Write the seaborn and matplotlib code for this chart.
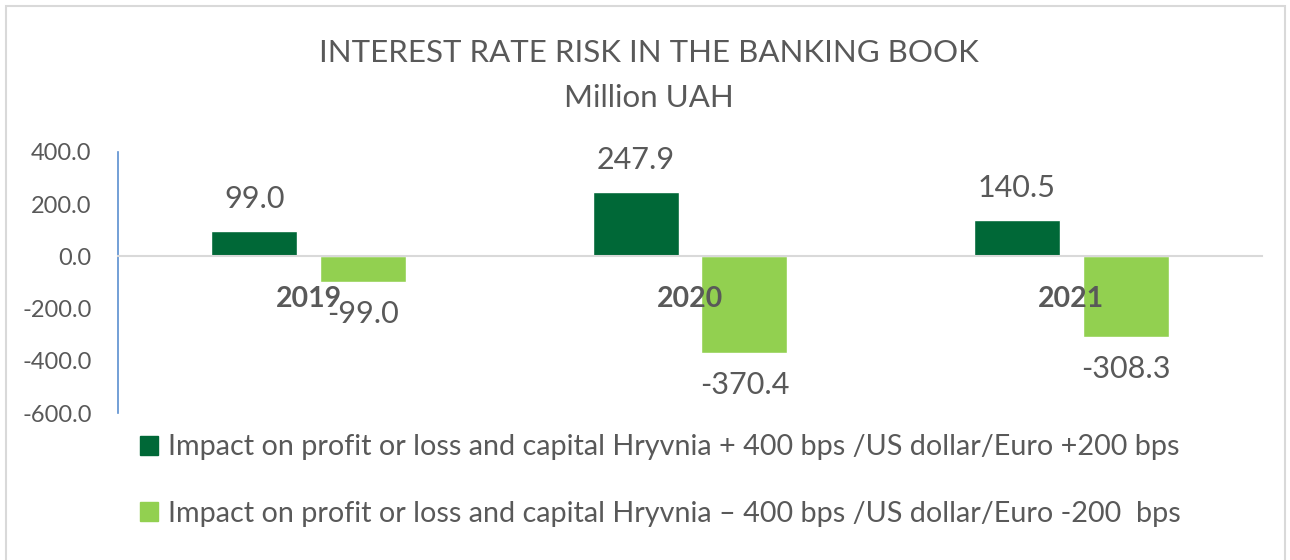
import pandas as pd
import matplotlib
matplotlib.use("Agg")
import matplotlib.pyplot as plt
import seaborn as sns
from matplotlib.patches import Rectangle

# Chart data
years = ["2019", "2020", "2021"]
impact_up = [99.0, 247.9, 140.5]
impact_down = [-99.0, -370.4, -308.3]
series_names = [
    "Impact on profit or loss and capital Hryvnia + 400 bps /US dollar/Euro +200 bps",
    "Impact on profit or loss and capital Hryvnia \u2013 400 bps /US dollar/Euro -200  bps",
]
y_ticks = [-600, -400, -200, 0, 200, 400]

DARK = "#006837"
LIGHT = "#92D050"
GREY = "#595959"


def main():
    sns.set_style("white")
    plt.rcParams["font.family"] = ["Lato", "DejaVu Sans"]
    plt.rcParams["axes.unicode_minus"] = False

    df = pd.DataFrame({
        "Year": years * 2,
        "Value": impact_up + impact_down,
        "Series": [series_names[0]] * 3 + [series_names[1]] * 3,
    })

    fig = plt.figure(figsize=(12.9, 5.6), dpi=100)
    ax = fig.add_axes([118 / 1290, 1 - 413 / 560, (1262 - 118) / 1290, (413 - 152) / 560])

    sns.barplot(data=df, x="Year", y="Value", hue="Series", order=years,
                hue_order=series_names, palette=[DARK, LIGHT], saturation=1,
                width=0.57, gap=0.21, ax=ax, legend=False)

    for cont in ax.containers:
        ax.bar_label(cont, fmt="%.1f", padding=13, fontsize=22, color=GREY)

    # spines first: moving the bottom spine resets the x tick labels
    ax.spines["top"].set_visible(False)
    ax.spines["right"].set_visible(False)
    ax.spines["left"].set_color("#5B8FD0")
    ax.spines["left"].set_linewidth(1.2)
    ax.spines["bottom"].set_position(("data", 0))
    ax.spines["bottom"].set_color("#D9D9D9")
    ax.spines["bottom"].set_linewidth(1.5)
    ax.set_axisbelow(False)  # year labels sit on top of the bars

    ax.set_ylim(-600, 400)
    ax.set_yticks(y_ticks)
    ax.set_yticklabels([f"{v:.1f}" for v in y_ticks], fontsize=17, color=GREY)
    ax.tick_params(axis="y", length=0, pad=19)
    ax.set_xticks(range(len(years)), years, fontsize=20.5, fontweight="bold", color=GREY)
    ax.tick_params(axis="x", length=0, pad=21)
    ax.set_xlabel("")
    ax.set_ylabel("")

    # title
    fig.text(0.503, 1 - 53 / 560, "INTEREST RATE RISK IN THE BANKING BOOK",
             ha="center", va="center", fontsize=22.5, color=GREY)
    fig.text(0.503, 1 - 98 / 560, "Million UAH",
             ha="center", va="center", fontsize=22.5, color=GREY)

    # legend below the plot
    handles = [Rectangle((0, 0), 1, 1, color=DARK), Rectangle((0, 0), 1, 1, color=LIGHT)]
    fig.legend(handles, series_names, loc="upper left",
               bbox_to_anchor=(128 / 1290, 1 - 423 / 560), frameon=False,
               fontsize=20.7, labelcolor=GREY, handlelength=0.65, handleheight=0.65,
               handletextpad=0.35, labelspacing=1.4, borderaxespad=0)

    # outer border of the chart area
    fig.patches.append(Rectangle((6 / 1290, -0.05), 1279 / 1290, 1 - 6 / 560 + 0.05,
                                 transform=fig.transFigure, fill=False,
                                 edgecolor="#D9D9D9", linewidth=1.5))

    fig.savefig("out.png", dpi=100)


if __name__ == "__main__":
    main()
